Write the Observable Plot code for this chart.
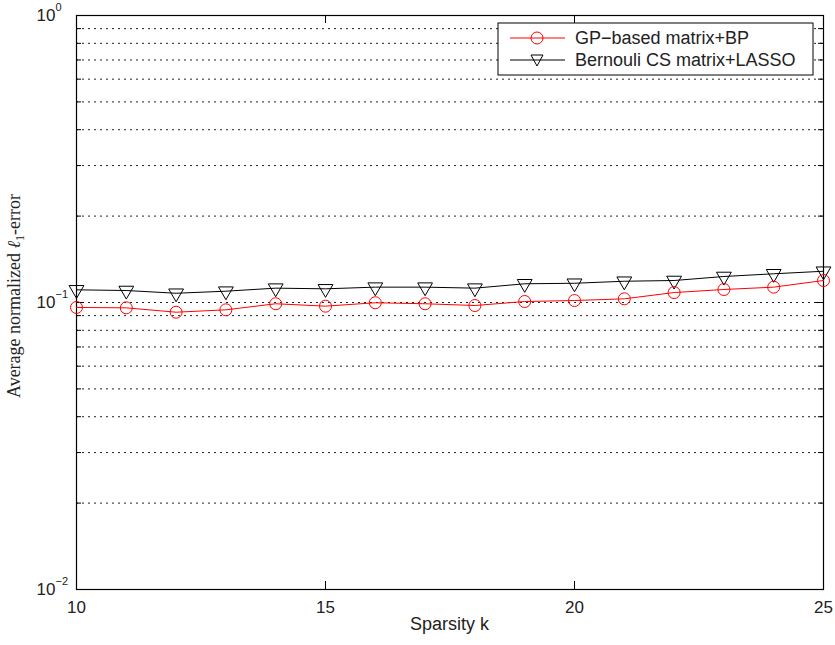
<!DOCTYPE html>
<html>
<head>
<meta charset="utf-8">
<script src="https://cdn.jsdelivr.net/npm/d3@7"></script>
<script src="https://cdn.jsdelivr.net/npm/@observablehq/plot@0.6"></script>
<style>
  html, body { margin: 0; padding: 0; background: #fff; }
  svg { display: block; }
</style>
</head>
<body>
<div id="chart"></div>
<script>
// ---- data ----
const sparsity = [10, 11, 12, 13, 14, 15, 16, 17, 18, 19, 20, 21, 22, 23, 24, 25];
const gpBP = [0.0961, 0.0958, 0.0925, 0.0943, 0.0990, 0.0971, 0.0998, 0.0990, 0.0976, 0.1008, 0.1016, 0.1030, 0.1083, 0.1110, 0.1131, 0.1193];
const bernoulliLasso = [0.1107, 0.1101, 0.1077, 0.1095, 0.1122, 0.1116, 0.1131, 0.1131, 0.1122, 0.1162, 0.1167, 0.1186, 0.1193, 0.1232, 0.1259, 0.1285];
const seriesNames = ["GP\u2212based matrix+BP", "Bernouli CS matrix+LASSO"];
const xTicks = [10, 15, 20, 25];
const yMajor = [0.01, 0.1, 1];
const yExponents = ["\u22122", "\u22121", "0"];
const yMinor = [0.02, 0.03, 0.04, 0.05, 0.06, 0.07, 0.08, 0.09, 0.2, 0.3, 0.4, 0.5, 0.6, 0.7, 0.8, 0.9];
const yGrid = [...yMajor, ...yMinor];

const gpData = sparsity.map((k, i) => ({k, v: gpBP[i]}));
const blData = sparsity.map((k, i) => ({k, v: bernoulliLasso[i]}));

const W = 835, H = 645;
const mL = 76, mR = 12, mT = 15, mB = 56;
const pw = W - mL - mR, ph = H - mT - mB;
const sans = "'Liberation Sans', Arial, Helvetica, sans-serif";

const svg = Plot.plot({
  width: W,
  height: H,
  marginLeft: mL,
  marginRight: mR,
  marginTop: mT,
  marginBottom: mB,
  style: {fontFamily: sans, background: "#fff", color: "#222"},
  x: {domain: [10, 25], axis: null},
  y: {type: "log", domain: [0.01, 1], axis: null},
  marks: [
    // dotted grid
    Plot.ruleY(yGrid, {y: d => d, stroke: "#222", strokeWidth: 1, strokeDasharray: "2,4"}),
    // inward ticks (left / right)
    Plot.tickY(yMajor, {y: d => d, stroke: "#000", insetRight: pw - 8}),
    Plot.tickY(yMajor, {y: d => d, stroke: "#000", insetLeft: pw - 8}),
    Plot.tickY(yMinor, {y: d => d, stroke: "#000", insetRight: pw - 5}),
    Plot.tickY(yMinor, {y: d => d, stroke: "#000", insetLeft: pw - 5}),
    // inward ticks (bottom / top)
    Plot.tickX(xTicks, {x: d => d, stroke: "#000", insetTop: ph - 8}),
    Plot.tickX(xTicks, {x: d => d, stroke: "#000", insetBottom: ph - 8}),
    Plot.frame({stroke: "#000", strokeWidth: 1.2}),
    // series
    Plot.line(blData, {x: "k", y: "v", stroke: "#000", strokeWidth: 1}),
    Plot.dot(blData, {x: "k", y: "v", symbol: "triangle", rotate: 180, r: 5.5, stroke: "#000", fill: "none", strokeWidth: 1}),
    Plot.line(gpData, {x: "k", y: "v", stroke: "#f00", strokeWidth: 1}),
    Plot.dot(gpData, {x: "k", y: "v", symbol: "circle", r: 6, stroke: "#f00", fill: "none", strokeWidth: 1}),
    // x tick labels
    Plot.text(xTicks, {x: d => d, frameAnchor: "bottom", dy: 18, text: d => String(d), fontSize: 17, fill: "#222", lineAnchor: "middle"}),
    // y tick labels: "10" + exponent
    Plot.text(yMajor, {y: d => d, frameAnchor: "left", dx: -21, text: () => "10", fontSize: 17, fill: "#222", textAnchor: "end"}),
    Plot.text(yMajor, {y: d => d, frameAnchor: "left", dx: -21, dy: -8, text: (d, i) => yExponents[i], fontSize: 11, fill: "#222", textAnchor: "start"})
  ]
});

const s = d3.select(svg);
// x label
s.append("text")
  .attr("x", mL + pw / 2).attr("y", 630)
  .attr("text-anchor", "middle")
  .attr("font-family", sans).attr("font-size", 18).attr("fill", "#222")
  .text("Sparsity k");

// y label
const yl = s.append("text")
  .attr("transform", `translate(20,${mT + ph / 2 - 6}) rotate(-90)`)
  .attr("text-anchor", "middle")
  .attr("font-family", "'Liberation Serif', 'Times New Roman', serif")
  .attr("font-size", 18).attr("fill", "#222");
yl.append("tspan").text("Average normalized ");
yl.append("tspan").attr("font-style", "italic").text("\u2113");
yl.append("tspan").attr("font-size", 12).attr("dy", 4).text("1");
yl.append("tspan").attr("dy", -4).text("-error");

// legend
const lg = s.append("g");
lg.append("rect").attr("x", 498).attr("y", 23).attr("width", 315).attr("height", 52)
  .attr("fill", "#fff").attr("stroke", "#000").attr("stroke-width", 1);
const rows = [
  {y: 38, color: "#f00", sym: "circle"},
  {y: 60, color: "#000", sym: "tri"}
];
rows.forEach((r, i) => {
  lg.append("line").attr("x1", 510).attr("x2", 565).attr("y1", r.y).attr("y2", r.y)
    .attr("stroke", r.color).attr("stroke-width", 1);
  if (r.sym === "circle") {
    lg.append("circle").attr("cx", 537).attr("cy", r.y).attr("r", 6)
      .attr("fill", "none").attr("stroke", r.color);
  } else {
    lg.append("path").attr("d", `M531,${r.y - 5}L543,${r.y - 5}L537,${r.y + 6}Z`)
      .attr("fill", "none").attr("stroke", r.color);
  }
  lg.append("text").attr("x", 575).attr("y", r.y).attr("dy", "0.35em")
    .attr("text-anchor", "start")
    .attr("font-family", sans).attr("font-size", 18).attr("fill", "#222")
    .text(seriesNames[i]);
});

document.getElementById("chart").appendChild(svg);
</script>
</body>
</html>
